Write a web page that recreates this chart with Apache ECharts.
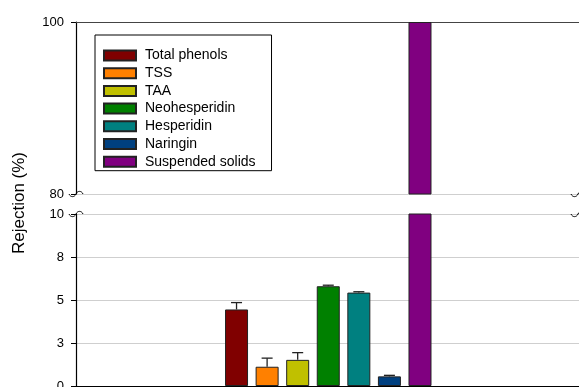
<!DOCTYPE html>
<html>
<head>
<meta charset="utf-8">
<script src="https://cdn.jsdelivr.net/npm/echarts@6/dist/echarts.min.js"></script>
<style>
  html, body { margin: 0; padding: 0; background: #fff; }
  #chart { width: 579px; height: 387px; }
</style>
</head>
<body>
<div id="chart"></div>
<script>
// Rejection of each component (%), with the upper error (SD)
const names = ['Total phenols', 'TSS', 'TAA', 'Neohesperidin', 'Hesperidin', 'Naringin', 'Suspended solids'];
const colors = ['#800000', '#ff8000', '#c0c000', '#008000', '#008080', '#004080', '#800080'];
const positions = [1, 2, 3, 4, 5, 6, 7];
const values = [4.45, 1.12, 1.52, 5.8, 5.43, 0.56, 100];
const errors = [0.4, 0.5, 0.42, 0.06, 0.05, 0.06, 0];
const lowerRange = [0, 10];
const upperRange = [80, 100];

const FONT = 'Liberation Sans, Arial, sans-serif';
const chart = echarts.init(document.getElementById('chart'), null, { renderer: 'canvas' });

function xAxisFor(grid, pos, lineColor) {
  return {
    type: 'value', gridIndex: grid, min: -4.25, max: 12.2, position: pos,
    axisLine: { show: true, onZero: false, lineStyle: { color: lineColor, width: 1.2 } },
    axisTick: { show: false }, axisLabel: { show: false }, splitLine: { show: false }
  };
}
function yAxisFor(grid, range, interval) {
  return {
    type: 'value', gridIndex: grid, min: range[0], max: range[1], interval: interval,
    axisLine: { show: true, onZero: false, lineStyle: { color: '#000', width: 1.2 } },
    axisTick: { show: true, inside: false, length: 5, lineStyle: { color: '#000' } },
    axisLabel: { fontFamily: FONT, fontSize: 13, color: '#000', margin: 12,
      formatter: v => String(Math.round(v)) },
    splitLine: { show: true, lineStyle: { color: '#cfcfcf', width: 1.2 } }
  };
}

const series = [];
names.forEach((n, i) => {
  const style = { color: colors[i], borderColor: '#222', borderWidth: 1 };
  series.push({
    name: n, type: 'bar', xAxisIndex: 1, yAxisIndex: 1,
    barWidth: 23, barGap: '-100%', clip: true,
    itemStyle: style, data: [[positions[i], values[i]]]
  });
  if (values[i] > upperRange[0]) {
    series.push({
      name: n, type: 'bar', xAxisIndex: 0, yAxisIndex: 0,
      barWidth: 23, barGap: '-100%', clip: true,
      itemStyle: style, data: [[positions[i], values[i]]]
    });
  }
});

// Upper error bars on the lower panel
series.push({
  type: 'custom', xAxisIndex: 1, yAxisIndex: 1, z: 1, silent: true,
  data: positions.map((p, i) => [p, values[i], errors[i]]).filter(d => d[2] > 0 && d[1] < lowerRange[1]),
  renderItem: (params, api) => {
    const x = api.value(0), v = api.value(1), e = api.value(2);
    const top = api.coord([x, v + e]);
    const base = api.coord([x, v]);
    const st = { stroke: '#222', lineWidth: 1.3 };
    return { type: 'group', children: [
      { type: 'line', shape: { x1: top[0], y1: top[1], x2: base[0], y2: base[1] }, style: st },
      { type: 'line', shape: { x1: top[0] - 5.5, y1: top[1], x2: top[0] + 5.5, y2: top[1] }, style: st }
    ] };
  }
});

chart.setOption({
  animation: false,
  backgroundColor: '#fff',
  grid: [
    { left: 76, right: 0, top: 22, height: 172, outerBoundsMode: 'none' },
    { left: 76, right: 0, top: 214, height: 172, outerBoundsMode: 'none' }
  ],
  xAxis: [xAxisFor(0, 'top', '#444'), xAxisFor(1, 'bottom', '#000')],
  yAxis: [yAxisFor(0, upperRange, 20), yAxisFor(1, lowerRange, 2.5)],
  legend: {
    data: names, orient: 'vertical', left: 95, top: 35,
    icon: 'rect', itemWidth: 32, itemHeight: 10, itemGap: 3.7,
    padding: [13.5, 16, 2, 8],
    borderColor: '#000', borderWidth: 1,
    textStyle: { fontFamily: FONT, fontSize: 14, color: '#000', lineHeight: 14, padding: [0, 0, 0, 4] }
  },
  series: series
});

// Axis break marks and the shared axis title
const g0 = chart.convertToPixel({ gridIndex: 0 }, [0, upperRange[0]]);
const g1 = chart.convertToPixel({ gridIndex: 1 }, [0, lowerRange[1]]);
function tilde(cx, cy) {
  const s = { stroke: '#000', lineWidth: 1, fill: null };
  return [
    { type: 'bezierCurve', shape: { x1: cx - 7, y1: cy, cpx1: cx - 5.5, cpy1: cy + 3.5, cpx2: cx - 1.5, cpy2: cy + 3.5, x2: cx, y2: cy }, style: s, z: 100 },
    { type: 'bezierCurve', shape: { x1: cx, y1: cy, cpx1: cx + 1.5, cpy1: cy - 3.5, cpx2: cx + 5.5, cpy2: cy - 3.5, x2: cx + 7, y2: cy }, style: s, z: 100 }
  ];
}
const axX = 76, rightX = 579;
chart.setOption({
  graphic: [].concat(
    tilde(axX, g0[1]), tilde(axX, g1[1]),
    tilde(rightX - 1, g0[1]), tilde(rightX - 1, g1[1]),
    [{
      type: 'text', x: 19, y: 203, rotation: Math.PI / 2,
      style: { text: 'Rejection (%)', fontFamily: FONT, fontSize: 17, fill: '#000',
        align: 'center', verticalAlign: 'middle' }
    }]
  )
});
</script>
</body>
</html>
